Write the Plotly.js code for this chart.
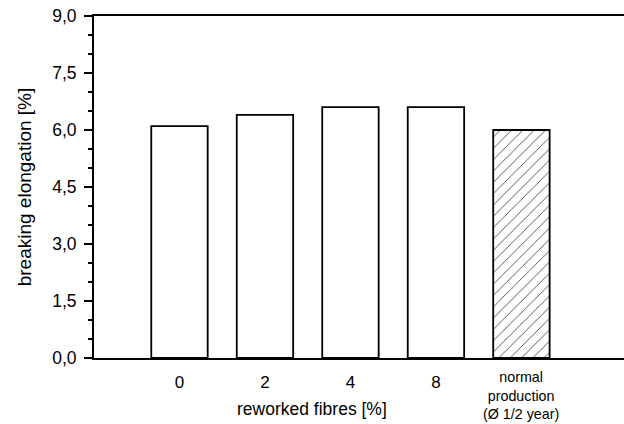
<!DOCTYPE html>
<html>
<head>
<meta charset="utf-8">
<script src="https://cdn.plot.ly/plotly-3.0.1.min.js"></script>
<style>html,body{margin:0;padding:0;background:#fff;}#chart{width:624px;height:424px;}</style>
</head>
<body>
<div id="chart"></div>
<script>
var categories = ["0", "2", "4", "8", "normal<br>production<br>(Ø 1/2 year)"];
var values = [6.1, 6.4, 6.6, 6.6, 6.0];
var hatched = [false, false, false, false, true];
var yTickVals = [0, 1.5, 3, 4.5, 6, 7.5, 9];
var xTitle = "reworked fibres [%]";
var yTitle = "breaking elongation [%]";

var FAM = "Liberation Sans, Arial, sans-serif";
var idx = categories.map(function(c, i){ return i; });
var lastIdx = categories.length - 1;

var trace = {
  type: "bar",
  x: idx,
  y: values,
  width: 0.66,
  marker: {
    color: "white",
    line: {color: "black", width: 1.8},
    pattern: {
      shape: hatched.map(function(h){ return h ? "/" : ""; }),
      size: 8,
      solidity: 0.08,
      fgcolor: "black",
      bgcolor: "white"
    }
  },
  hoverinfo: "none"
};

var layout = {
  width: 624,
  height: 424,
  margin: {l: 94, r: 0, t: 16, b: 66},
  paper_bgcolor: "white",
  plot_bgcolor: "white",
  separators: ",.",
  font: {family: FAM, size: 17, color: "black"},
  showlegend: false,
  xaxis: {
    range: [-1, 5.2],
    tickmode: "array",
    tickvals: idx.slice(0, lastIdx),
    ticktext: categories.slice(0, lastIdx),
    ticks: "",
    showgrid: false,
    zeroline: false,
    showline: true,
    mirror: true,
    linecolor: "black",
    linewidth: 2,
    tickfont: {family: FAM, size: 17, color: "black"},
    ticklabelstandoff: 8,
    fixedrange: true
  },
  yaxis: {
    range: [0, 9],
    tickmode: "array",
    tickvals: yTickVals,
    tickformat: ".1f",
    ticks: "outside",
    ticklen: 8,
    tickwidth: 2,
    tickcolor: "black",
    minor: {dtick: 0.5, ticks: "outside", ticklen: 4, tickwidth: 1.3, tickcolor: "black"},
    showgrid: false,
    zeroline: false,
    showline: true,
    linecolor: "black",
    linewidth: 2,
    tickfont: {family: FAM, size: 17.5, color: "black"},
    ticklabelstandoff: 4,
    title: {text: yTitle, font: {family: FAM, size: 19, color: "black"}, standoff: 16},
    fixedrange: true
  },
  annotations: [{
    text: xTitle,
    xref: "x", yref: "paper",
    x: 1.55, y: -0.149,
    xanchor: "center", yanchor: "middle",
    showarrow: false,
    font: {family: FAM, size: 17.5, color: "black"}
  }, {
    text: categories[lastIdx],
    xref: "x", yref: "paper",
    x: lastIdx, y: -0.025,
    xanchor: "center", yanchor: "top",
    showarrow: false,
    font: {family: FAM, size: 14.3, color: "black"}
  }]
};

Plotly.newPlot("chart", [trace], layout, {staticPlot: true, displayModeBar: false});
</script>
</body>
</html>
